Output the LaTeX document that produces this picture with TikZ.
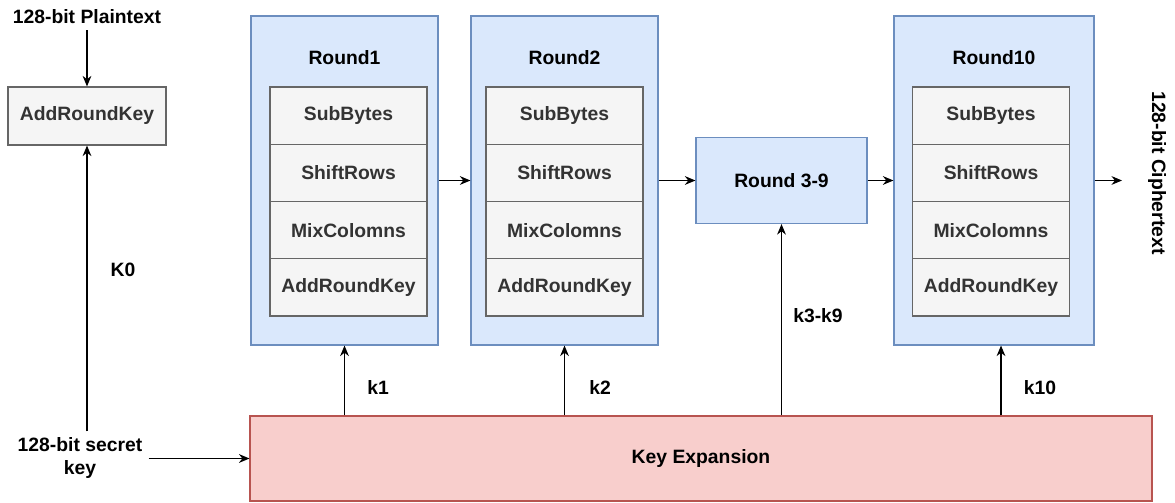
\documentclass[tikz,border=0pt]{standalone}
\usepackage{fontspec}
\setmainfont{Liberation Sans}
\usepackage{xcolor}
\usetikzlibrary{positioning,calc,arrows.meta}

\definecolor{blueFill}{HTML}{DAE8FC}
\definecolor{blueLine}{HTML}{6C8EBF}
\definecolor{grayFill}{HTML}{F5F5F5}
\definecolor{grayLine}{HTML}{666666}
\definecolor{grayText}{HTML}{333333}
\definecolor{redFill}{HTML}{F8CECC}
\definecolor{redLine}{HTML}{B85450}

\tikzset{
    every node/.style={font=\fontsize{11}{13}\selectfont\bfseries},
    stepbox/.style={draw=grayLine, fill=grayFill, text=grayText, line width=0.7pt,
        inner sep=0pt, minimum width=3.14cm, minimum height=1.145cm},
    roundbox/.style={draw=blueLine, fill=blueFill, line width=0.7pt, inner sep=0pt,
        minimum height=6.58cm},
    keybox/.style={draw=redLine, fill=redFill, line width=0.7pt, inner sep=0pt},
    arr/.style={-{Stealth[length=6pt,width=5pt]}, line width=0.6pt}
}

\begin{document}
\begin{tikzpicture}[x=0.02cm, y=0.02cm]
    \useasboundingbox (0,0) rectangle (1175,503);

    % input side
    \node (plain) at (87,486) {128-bit Plaintext};
    \node[stepbox, minimum width=3.16cm, minimum height=1.16cm] (ark0) at (87,387) {AddRoundKey};
    \node[align=center] (skey) at (80,45) {128-bit secret\\key};
    \node at (123,233) {K0};

    % the three drawn rounds
    \foreach \rnd/\x/\ix/\w in {1/344.5/348.5/3.74, 2/564.5/564.5/3.74, 10/994/991/4.0} {
        \node[roundbox, minimum width=\w cm] (r\rnd) at (\x,322.5) {};
        \node at (\x,445) {Round\rnd};
        \node[stepbox] (r\rnd a) at (\ix,387.4) {SubBytes};
        \node[stepbox] (r\rnd b) at (\ix,330.1) {ShiftRows};
        \node[stepbox] (r\rnd c) at (\ix,272.9) {MixColomns};
        \node[stepbox] (r\rnd d) at (\ix,215.6) {AddRoundKey};
    }

    \node[roundbox, minimum width=3.42cm, minimum height=1.72cm] (r39) at (781.5,322.5) {Round 3-9};
    \node[keybox, minimum width=18.04cm, minimum height=1.7cm] (ke) at (701,44.5) {Key Expansion};

    \node[rotate=-90] (cipher) at (1157,330) {128-bit Ciphertext};
    \coordinate (out) at (1122,322.5);

    % data path
    \draw[arr] (plain) -- (ark0);
    \draw[arr] (r1) -- (r2);
    \draw[arr] (r2) -- (r39);
    \draw[arr] (r39) -- (r10);
    \draw[arr] (r10.east) -- (out);

    % keys
    \draw[arr] (ark0.south |- skey.north) -- (ark0.south);
    \draw[arr] (skey.east |- ke.west) -- (ke.west);
    \draw[arr] (ke.north -| r1.south) -- (r1.south);
    \draw[arr] (ke.north -| r2.south) -- (r2.south);
    \draw[arr] (ke.north -| r39.south) -- (r39.south);
    \draw[arr] (1001,0 |- ke.north) -- (1001,0 |- r10.south);

    \node at (378,115) {k1};
    \node at (600,115) {k2};
    \node at (818,187) {k3-k9};
    \node at (1040,115) {k10};
\end{tikzpicture}
\end{document}
